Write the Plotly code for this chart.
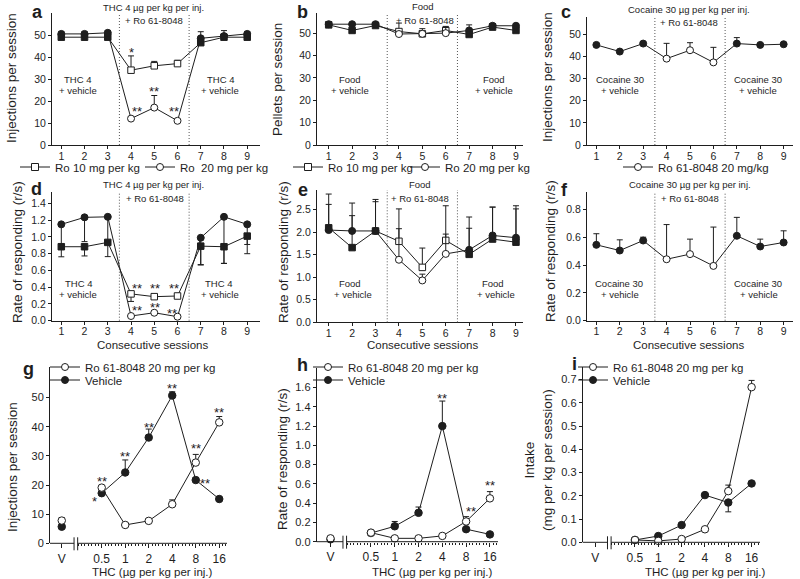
import math
import plotly.graph_objects as go

W, H = 800, 579
FONT = "Liberation Sans, Arial, Helvetica, sans-serif"
INK = "#1e1e1e"
DOT = "#555555"

# ---------------- data ----------------
SESSIONS = [1, 2, 3, 4, 5, 6, 7, 8, 9]
RO_WINDOW = (3.5, 6.5)  # sessions given with Ro 61-8048 pretreatment

# a: THC 4 ug/kg/inj, injections per session
A_RO10 = [49.0, 49.0, 49.0, 34.0, 36.0, 37.0, 46.5, 49.0, 49.0]
A_RO10_ERR = [1.0, 1.0, 1.0, 6.5, 2.0, 1.5, 2.0, 1.5, 1.0]
A_RO20 = [50.5, 50.5, 51.0, 12.0, 17.0, 11.0, 48.5, 49.5, 50.5]
A_RO20_ERR = [1.0, 1.0, 1.0, 0.5, 5.5, 0.5, 3.0, 2.5, 1.0]

# b: food, pellets per session
B_RO10 = [53.7, 51.2, 53.4, 50.7, 49.7, 51.2, 49.4, 52.7, 51.2]
B_RO10_ERR = [0.5, 0.5, 0.5, 3.8, 2.3, 1.8, 1.0, 1.5, 0.8]
B_RO20 = [54.0, 54.0, 54.0, 49.6, 49.7, 50.0, 51.2, 53.3, 53.3]
B_RO20_ERR = [0.5, 0.5, 0.5, 1.0, 1.0, 2.5, 2.5, 1.0, 0.8]

# c: cocaine 30 ug/kg/inj, injections per session
C_RO20 = [45.2, 42.2, 45.8, 39.0, 42.8, 37.3, 45.8, 45.2, 45.5]
C_RO20_ERR = [0.8, 0.6, 0.8, 6.9, 3.4, 6.8, 2.7, 0.6, 0.6]

# d: THC, rate of responding (error bars drawn downward)
D_RO10 = [0.883, 0.883, 0.935, 0.32, 0.287, 0.295, 0.89, 0.883, 1.01]
D_RO10_ERR = [0.12, 0.11, 0.17, 0.09, 0.02, 0.02, 0.225, 0.20, 0.21]
D_RO20 = [1.15, 1.234, 1.24, 0.056, 0.095, 0.048, 0.99, 1.24, 1.15]
D_RO20_ERR = [0.3, 0.29, 0.3, 0.01, 0.01, 0.01, 0.32, 0.555, 0.24]

# e: food, rate of responding
E_RO10 = [2.10, 1.66, 2.03, 1.80, 1.22, 1.82, 1.51, 1.85, 1.78]
E_RO10_ERR = [0.52, 0.71, 0.65, 0.72, 0.43, 0.77, 0.58, 0.71, 0.74]
E_RO20 = [2.05, 2.03, 2.03, 1.39, 0.93, 1.52, 1.61, 1.93, 1.88]
E_RO20_ERR = [0.80, 0.62, 0.70, 0.69, 0.14, 0.44, 0.73, 0.63, 0.71]

# f: cocaine, rate of responding
F_RO20 = [0.547, 0.506, 0.578, 0.443, 0.480, 0.395, 0.612, 0.535, 0.564]
F_RO20_ERR = [0.080, 0.077, 0.024, 0.250, 0.108, 0.280, 0.133, 0.053, 0.084]

# dose-response panels
DOSES = [0.5, 1, 2, 4, 8, 16]
DOSE_LABELS = ["0.5", "1", "2", "4", "8", "16"]
V_LABEL = "V"

G_RO = [19.1, 6.3, 7.7, 13.4, 27.7, 41.5]
G_RO_ERR = [0.5, 0.5, 0.5, 1.5, 2.8, 2.0]
G_VEH = [17.2, 24.3, 36.3, 50.7, 21.7, 15.2]
G_VEH_ERR = [0.5, 4.3, 2.9, 1.3, 0.8, 0.5]
G_RO_V, G_RO_V_ERR = 7.8, 1.0
G_VEH_V = 5.7

H_RO = [0.094, 0.035, 0.035, 0.060, 0.210, 0.450]
H_RO_ERR = [0.01, 0.01, 0.01, 0.01, 0.05, 0.07]
H_VEH = [0.090, 0.160, 0.300, 1.200, 0.130, 0.076]
H_VEH_ERR = [0.01, 0.05, 0.06, 0.26, 0.01, 0.01]
H_RO_V, H_RO_V_ERR = 0.035, 0.01
H_VEH_V = 0.025

I_RO = [0.010, 0.006, 0.014, 0.056, 0.220, 0.667]
I_RO_ERR = [0.0, 0.0, 0.0, 0.0, 0.026, 0.029]
I_VEH = [0.010, 0.027, 0.074, 0.203, 0.171, 0.253]
I_VEH_ERR_DOWN = [0.0, 0.0, 0.0, 0.0, 0.040, 0.0]

# ---------------- layout geometry (pixels) ----------------
V_OFFSET = -1.7      # position of V, in doublings relative to 0.5
BREAK_OFFSET = -1.1  # axis break, in doublings relative to 0.5
L2 = math.log10(2)
L05 = math.log10(0.5)


def dose_pos(rel):
    return 0.5 * 2 ** rel


V_POS = dose_pos(V_OFFSET)

PANELS = {
    "a": dict(n=1, px=(52, 260), py=(13, 145), xr=(0.6, 9.55), yr=(0, 60)),
    "b": dict(n=2, px=(317, 523), py=(13, 145), xr=(0.5, 9.3), yr=(0, 59)),
    "c": dict(n=3, px=(587, 793), py=(17, 145), xr=(0.6, 9.4), yr=(0, 57.8)),
    "d": dict(n=4, px=(52, 260), py=(191.7, 320.7), xr=(0.6, 9.55), yr=(0, 1.54)),
    "e": dict(n=5, px=(317, 523), py=(190, 322.3), xr=(0.5, 9.3), yr=(0, 2.94)),
    "f": dict(n=6, px=(587, 793), py=(191.7, 320.7), xr=(0.6, 9.4), yr=(0, 0.93)),
    "g": dict(n=7, px=(50, 227), py=(366.7, 543.3), xr=(-2.2, 5.33), yr=(0, 60.6)),
    "h": dict(n=8, px=(316.7, 498), py=(368.3, 541.7), xr=(-2.28, 5.34), yr=(0, 1.8)),
    "i": dict(n=9, px=(582.7, 760), py=(366.7, 542.3), xr=(-2.24, 5.36), yr=(0, 0.755)),
}

YTICKS = {
    "a": ([0, 10, 20, 30, 40, 50], "d"),
    "b": ([0, 10, 20, 30, 40, 50], "d"),
    "c": ([0, 10, 20, 30, 40, 50], "d"),
    "d": ([0, 0.2, 0.4, 0.6, 0.8, 1.0, 1.2, 1.4], ".1f"),
    "e": ([0, 0.5, 1.0, 1.5, 2.0, 2.5], ".1f"),
    "f": ([0, 0.2, 0.4, 0.6, 0.8], ".1f"),
    "g": ([0, 10, 20, 30, 40, 50], "d"),
    "h": ([0, 0.2, 0.4, 0.6, 0.8, 1.0, 1.2, 1.4, 1.6], ".1f"),
    "i": ([0, 0.1, 0.2, 0.3, 0.4, 0.5, 0.6, 0.7], ".1f"),
}


def ax(n):
    return "x" if n == 1 else f"x{n}"


def ay(n):
    return "y" if n == 1 else f"y{n}"


fig = go.Figure()
layout = dict(
    width=W, height=H, margin=dict(l=0, r=0, t=0, b=0, autoexpand=False),
    paper_bgcolor="white", plot_bgcolor="white",
    font=dict(family=FONT, size=10, color=INK),
    showlegend=True,
)
annotations = []
shapes = []

MINOR = [dose_pos(k / 7) for k in range(-7, 38)]

for key, p in PANELS.items():
    n = p["n"]
    xname = "xaxis" if n == 1 else f"xaxis{n}"
    yname = "yaxis" if n == 1 else f"yaxis{n}"
    dx = [p["px"][0] / W, p["px"][1] / W]
    dy = [1 - p["py"][1] / H, 1 - p["py"][0] / H]
    dose = key in ("g", "h", "i")
    common = dict(showgrid=False, zeroline=False, linecolor=INK, linewidth=1,
                  ticks="outside", tickcolor=INK, tickwidth=1, fixedrange=True,
                  automargin=False)
    if dose:
        xr = [L05 + p["xr"][0] * L2, L05 + p["xr"][1] * L2]
        layout[xname] = dict(common, domain=dx, anchor=ay(n), type="log", range=xr,
                             showline=False, ticklen=4,
                             tickvals=[V_POS] + DOSES, ticktext=[V_LABEL] + DOSE_LABELS,
                             tickfont=dict(size=12),
                             minor=dict(tickmode="array", tickvals=MINOR, ticks="outside",
                                        ticklen=2, tickcolor=INK, tickwidth=1))
    else:
        layout[xname] = dict(common, domain=dx, anchor=ay(n), range=list(p["xr"]),
                             showline=True, ticklen=3, tickvals=SESSIONS,
                             ticklabelstandoff=-2,
                             tickfont=dict(size=10.5))
    tv, fmt = YTICKS[key]
    layout[yname] = dict(common, domain=dy, anchor=ax(n), range=list(p["yr"]),
                         showline=True, ticklen=3, tickvals=tv, tickformat=fmt,
                         tickfont=dict(size=11 if dose else 10.5))
    if not dose:
        for xv in RO_WINDOW:
            shapes.append(dict(type="line", xref=ax(n), yref=f"{ay(n)} domain",
                               x0=xv, x1=xv, y0=0, y1=1,
                               line=dict(color=DOT, width=1, dash="1px,2px")))
    else:
        lo, hi = xr
        bfrac = ((L05 + BREAK_OFFSET * L2) - lo) / (hi - lo)
        gap = 1.8 / (p["px"][1] - p["px"][0])
        for a0, a1 in ((0, bfrac - gap), (bfrac + gap, 1)):
            shapes.append(dict(type="line", xref=f"{ax(n)} domain", yref=f"{ay(n)} domain",
                               x0=a0, x1=a1, y0=0, y1=0, line=dict(color=INK, width=1)))
        hpx = p["py"][1] - p["py"][0]
        for s in (-1, 1):
            xb = bfrac + s * gap
            shapes.append(dict(type="line", xref=f"{ax(n)} domain", yref=f"{ay(n)} domain",
                               x0=xb, x1=xb, y0=-7 / hpx, y1=6 / hpx,
                               line=dict(color=INK, width=1)))


def fill_colors(xs):
    return ["white" if RO_WINDOW[0] < s < RO_WINDOW[1] else INK for s in xs]


def err(up=None, down=None, count=9):
    zero = [0.0] * count
    return dict(type="data", symmetric=False, array=up if up is not None else zero,
                arrayminus=down if down is not None else zero,
                color=INK, thickness=1, width=3)


def session_series(n, y, e, symbol, downward=False):
    size = 6.5 if symbol == "square" else 7
    fig.add_trace(go.Scatter(
        x=SESSIONS, y=y, mode="lines+markers", xaxis=ax(n), yaxis=ay(n),
        line=dict(color=INK, width=1),
        marker=dict(symbol=symbol, size=size, color=fill_colors(SESSIONS),
                    line=dict(color=INK, width=1)),
        error_y=err(down=e) if downward else err(up=e),
        showlegend=False, cliponaxis=False, hoverinfo="skip"))


def dose_series(n, y, filled, up=None, down=None):
    fig.add_trace(go.Scatter(
        x=DOSES, y=y, mode="lines+markers", xaxis=ax(n), yaxis=ay(n),
        line=dict(color=INK, width=1),
        marker=dict(symbol="circle", size=7.5, color=INK if filled else "white",
                    line=dict(color=INK, width=1)),
        error_y=err(up=up, down=down, count=len(DOSES)),
        showlegend=False, cliponaxis=False, hoverinfo="skip"))


def v_point(n, yv, filled, up=0.0):
    fig.add_trace(go.Scatter(
        x=[V_POS], y=[yv], mode="markers", xaxis=ax(n), yaxis=ay(n),
        marker=dict(symbol="circle", size=7.5, color=INK if filled else "white",
                    line=dict(color=INK, width=1)),
        error_y=err(up=[up], count=1),
        showlegend=False, cliponaxis=False, hoverinfo="skip"))


# row 1
session_series(1, A_RO10, A_RO10_ERR, "square")
session_series(1, A_RO20, A_RO20_ERR, "circle")
session_series(2, B_RO10, B_RO10_ERR, "square")
session_series(2, B_RO20, B_RO20_ERR, "circle")
session_series(3, C_RO20, C_RO20_ERR, "circle")
# row 2
session_series(4, D_RO10, D_RO10_ERR, "square", downward=True)
session_series(4, D_RO20, D_RO20_ERR, "circle", downward=True)
session_series(5, E_RO10, E_RO10_ERR, "square")
session_series(5, E_RO20, E_RO20_ERR, "circle")
session_series(6, F_RO20, F_RO20_ERR, "circle")
# row 3
v_point(7, G_VEH_V, True)
v_point(7, G_RO_V, False, G_RO_V_ERR)
dose_series(7, G_VEH, True, up=G_VEH_ERR)
dose_series(7, G_RO, False, up=G_RO_ERR)
v_point(8, H_VEH_V, True)
v_point(8, H_RO_V, False, H_RO_V_ERR)
dose_series(8, H_VEH, True, up=H_VEH_ERR)
dose_series(8, H_RO, False, up=H_RO_ERR)
dose_series(9, I_VEH, True, down=I_VEH_ERR_DOWN)
dose_series(9, I_RO, False, up=I_RO_ERR)

# ---------------- legends ----------------
LEGENDS = [
    ("Ro 10 mg per kg", "square", False, 55, 168),
    ("Ro \u00a020 mg per kg", "circle", False, 180, 168),
    ("Ro 10 mg per kg", "square", False, 328, 168),
    ("Ro 20 mg per kg", "circle", False, 445, 168),
    ("Ro 61-8048 20 mg/kg", "circle", False, 658, 168),
    ("Ro 61-8048 20 mg per kg", "circle", False, 85, 368),
    ("Vehicle", "circle", True, 85, 381),
    ("Ro 61-8048 20 mg per kg", "circle", False, 348, 368),
    ("Vehicle", "circle", True, 348, 381),
    ("Ro 61-8048 20 mg per kg", "circle", False, 613, 368),
    ("Vehicle", "circle", True, 613, 381),
]
for k, (name, sym, filled, tx, tyy) in enumerate(LEGENDS, 1):
    lkey = "legend" if k == 1 else f"legend{k}"
    fig.add_trace(go.Scatter(
        x=[None], y=[None], mode="lines+markers", name=name, legend=lkey,
        line=dict(color=INK, width=1),
        marker=dict(symbol=sym, size=7, color=INK if filled else "white",
                    line=dict(color=INK, width=1)),
        showlegend=True, hoverinfo="skip"))
    layout[lkey] = dict(x=(tx - 40) / W, y=1 - (tyy - 1) / H, xanchor="left", yanchor="middle",
                        bgcolor="rgba(0,0,0,0)", borderwidth=0, itemwidth=30,
                        font=dict(size=11.5, family=FONT, color=INK), tracegroupgap=0)


# ---------------- text ----------------
def txt(s, xp, yp, size=9.5, **kw):
    d = dict(text=s, x=xp / W, y=1 - yp / H, xref="paper", yref="paper", showarrow=False,
             font=dict(size=size, family=FONT, color=kw.pop("color", INK)),
             xanchor="center", yanchor="middle")
    d.update(kw)
    annotations.append(d)


# panel letters
for letter, xp, yp in (("a", 37, 12), ("b", 302, 12), ("c", 566, 12),
                       ("d", 36, 189), ("e", 303, 190), ("f", 564, 190),
                       ("g", 28, 369), ("h", 302, 365), ("i", 574, 364)):
    txt(f"<b>{letter}</b>", xp, yp, 18)

# y-axis titles
for title, xp, yp in (("Injections per session", 11, 78),
                      ("Pellets per session", 278, 80),
                      ("Injections per session", 548, 77),
                      ("Rate of responding (r/s)", 17, 252),
                      ("Rate of responding (r/s)", 283, 252),
                      ("Rate of responding (r/s)", 550, 251),
                      ("Injections per session", 12, 467),
                      ("Rate of responding (r/s)", 282, 459),
                      ("Intake<br>(mg per kg per session)", 538, 460)):
    txt(title, xp, yp, 13.5, textangle=-90)

# x-axis titles
for xp in (152, 422, 688):
    txt("Consecutive sessions", xp, 345, 11.5)
for xp in (152, 432, 705):
    txt("THC (\u00b5g per kg per inj.)", xp, 572, 11.5)

# condition labels
for s, xp, yp in (("THC 4 \u00b5g per kg per inj.", 153, 7), ("+ Ro 61-8048", 154, 20),
                  ("THC 4", 77, 80), ("+ vehicle", 78, 90),
                  ("THC 4", 220, 80), ("+ vehicle", 220, 90),
                  ("Food", 423, 6), ("+ Ro 61-8048", 425, 20),
                  ("Food", 350, 80), ("+ vehicle", 350, 90),
                  ("Food", 494, 80), ("+ vehicle", 494, 90),
                  ("Cocaine 30 \u00b5g per kg per inj.", 689, 9), ("+ Ro 61-8048", 689, 23),
                  ("Cocaine 30", 620, 80), ("+ vehicle", 620, 91),
                  ("Cocaine 30", 758, 80), ("+ vehicle", 758, 91),
                  ("THC 4 \u00b5g per kg per inj.", 153, 185), ("+ Ro 61-8048", 155, 199),
                  ("THC 4", 78, 283), ("+ vehicle", 78, 294),
                  ("THC 4", 218, 283), ("+ vehicle", 220, 294),
                  ("Food", 420, 185), ("+ Ro 61-8048", 420, 199),
                  ("Food", 350, 283), ("+ vehicle", 353, 294),
                  ("Food", 493, 283), ("+ vehicle", 496, 294),
                  ("Cocaine 30 \u00b5g per kg per inj.", 690, 185), ("+ Ro 61-8048", 690, 199),
                  ("Cocaine 30", 619, 283), ("+ vehicle", 620, 294),
                  ("Cocaine 30", 758, 283), ("+ vehicle", 759, 294)):
    txt(s, xp, yp, 9.5)

# significance stars (data coordinates)
STARS = [
    (1, "*", 4, 43.5), (1, "**", 4.26, 16.5), (1, "**", 5, 25.5), (1, "**", 5.83, 16.5),
    (4, "**", 4.26, 0.425), (4, "**", 5.04, 0.425), (4, "**", 5.83, 0.425),
    (4, "**", 4.26, 0.16), (4, "**", 5.04, 0.19), (4, "**", 5.76, 0.116),
    (7, "**", 0.5, 22.3), (7, "*", 0.40, 15.3), (7, "**", 1, 30.9), (7, "**", 2, 40.8),
    (7, "**", 4, 54.3), (7, "**", 8, 33.5), (7, "**", 10.5, 21.4), (7, "**", 16, 45.8),
    (8, "**", 4, 1.52), (8, "**", 9.2, 0.34), (8, "**", 16, 0.61),
]
for n, s, xv, yv in STARS:
    xval = math.log10(xv) if n >= 7 else xv
    annotations.append(dict(text=s, x=xval, y=yv, xref=ax(n), yref=ay(n), showarrow=False,
                            font=dict(size=13, family=FONT, color=INK),
                            xanchor="center", yanchor="middle", yshift=-3))

layout["annotations"] = annotations
layout["shapes"] = shapes
fig.update_layout(**layout)
fig.write_html(
    "out.html",
    config={"displayModeBar": False, "staticPlot": True},
    post_script="document.body.style.margin='0';document.body.style.overflow='hidden';",
)
